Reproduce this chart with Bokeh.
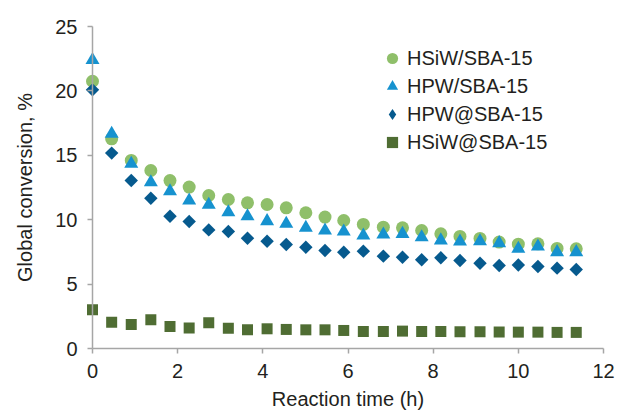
import numpy as np
from bokeh.plotting import figure
from bokeh.models import Range1d, Legend, LegendItem, FixedTicker, LinearAxis
from bokeh.embed import file_html
from bokeh.resources import INLINE

# Reaction time (h)
time_h = [0, 0.45, 0.91, 1.37, 1.82, 2.27, 2.73, 3.19, 3.64, 4.10, 4.55, 5.01, 5.46,
          5.90, 6.36, 6.83, 7.28, 7.73, 8.18, 8.63, 9.10, 9.55, 10.00, 10.46, 10.91, 11.36]

# Global conversion, %
hsiw_sba = [20.75, 16.28, 14.6, 13.82, 13.04, 12.53, 11.88, 11.57, 11.31, 11.18, 10.92, 10.54, 10.2,
            9.94, 9.63, 9.42, 9.37, 9.16, 8.9, 8.7, 8.55, 8.26, 8.1, 8.13, 7.77, 7.74]
hpw_sba = [22.4, 16.67, 14.34, 12.91, 12.21, 11.49, 11.16, 10.58, 10.27, 9.89, 9.68, 9.37, 9.16,
           9.08, 8.77, 8.85, 8.9, 8.64, 8.39, 8.31, 8.33, 8.18, 7.74, 7.92, 7.48, 7.48]
hpw_at = [20.08, 15.17, 13.04, 11.67, 10.27, 9.86, 9.21, 9.08, 8.56, 8.33, 8.07, 7.86, 7.61,
          7.48, 7.56, 7.17, 7.09, 6.89, 7.04, 6.83, 6.62, 6.44, 6.49, 6.37, 6.24, 6.13]
hsiw_at = [3.0, 2.04, 1.86, 2.23, 1.71, 1.6, 1.99, 1.58, 1.45, 1.53, 1.48, 1.45, 1.45,
           1.4, 1.32, 1.32, 1.35, 1.32, 1.32, 1.3, 1.3, 1.28, 1.27, 1.27, 1.25, 1.25]

labels = ["HSiW/SBA-15", "HPW/SBA-15", "HPW@SBA-15", "HSiW@SBA-15"]
x_ticks = [0, 2, 4, 6, 8, 10, 12]
y_ticks = [0, 5, 10, 15, 20, 25]
x_lim = (0, 12)
y_lim = (0, 25)

FONT = "Liberation Sans"
TXT = "#231F20"
AX = "#A6A6A6"

W, H = 619, 414
# axes box in pixels (left, right, top, bottom) inside the page
L, R, T, B = 92, 603, 26, 348
sx = (R - L) / (x_lim[1] - x_lim[0])
sy = (B - T) / (y_lim[1] - y_lim[0])
x_range = Range1d(x_lim[0] - L / sx, x_lim[1] + (W - R) / sx)
y_range = Range1d(y_lim[0] - (H - B) / sy, y_lim[1] + T / sy)

p = figure(width=W, height=H, output_backend="svg", toolbar_location=None,
           x_range=x_range, y_range=y_range,
           x_axis_location=None, y_axis_location=None,
           min_border=0, min_border_left=0, min_border_right=0,
           min_border_top=0, min_border_bottom=0)
p.outline_line_color = None
p.grid.visible = False
p.background_fill_color = "white"
p.border_fill_color = "white"

xaxis = LinearAxis(fixed_location=y_lim[0], bounds=x_lim, ticker=FixedTicker(ticks=x_ticks),
                   axis_label="Reaction time (h)")
yaxis = LinearAxis(fixed_location=x_lim[0], bounds=y_lim, ticker=FixedTicker(ticks=y_ticks),
                   axis_label="Global conversion, %")
for ax in (xaxis, yaxis):
    ax.axis_line_color = AX
    ax.axis_line_width = 1.5
    ax.major_tick_line_color = AX
    ax.major_tick_line_width = 1.5
    ax.major_tick_out = 5
    ax.major_tick_in = 0
    ax.minor_tick_line_color = None
    ax.major_label_text_font = FONT
    ax.major_label_text_font_size = "20px"
    ax.major_label_text_color = TXT
    ax.axis_label_text_font = FONT
    ax.axis_label_text_font_size = "20px"
    ax.axis_label_text_font_style = "normal"
    ax.axis_label_text_color = TXT
xaxis.major_label_standoff = 10
yaxis.major_label_standoff = 10
xaxis.axis_label_standoff = 7
yaxis.axis_label_standoff = 16
p.add_layout(xaxis, "below")
p.add_layout(yaxis, "left")

r1 = p.scatter(time_h, hsiw_sba, marker="circle", size=13, fill_color="#8FBF6A", line_color=None)
r2 = p.scatter(time_h, hpw_sba, marker="triangle", size=14, fill_color="#1692CF", line_color=None)
r3 = p.scatter(time_h, hpw_at, marker="square", angle=np.pi / 4, size=9.5, fill_color="#065A8E", line_color=None)
r4 = p.scatter(time_h, hsiw_at, marker="square", size=11, fill_color="#4F6D33", line_color=None)
# legend swatch for the diamond series (legend markers are drawn unrotated); NaN point is not drawn
r3_key = p.scatter([np.nan], [np.nan], marker="diamond", fill_color="#065A8E", line_color=None)

legend = Legend(items=[LegendItem(label=l, renderers=[r]) for l, r in zip(labels, [r1, r2, r3_key, r4])],
                location=(377, 258), glyph_width=30, glyph_height=28, label_height=28,
                spacing=0, padding=0, margin=0, label_standoff=0,
                label_text_font=FONT, label_text_font_size="20px", label_text_color=TXT,
                border_line_color=None, background_fill_alpha=0)
p.add_layout(legend, "center")

open("out.html", "w").write(file_html(p, INLINE))
